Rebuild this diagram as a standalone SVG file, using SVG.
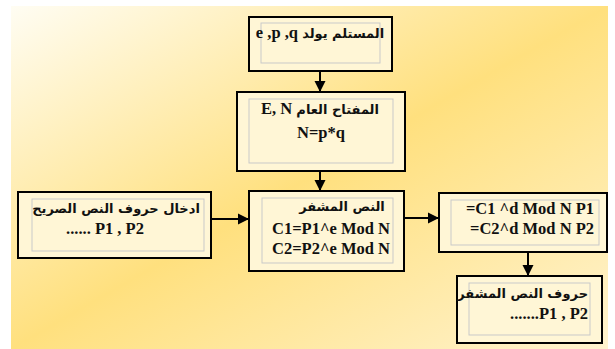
<svg xmlns="http://www.w3.org/2000/svg" width="615" height="349" viewBox="0 0 615 349">
<defs>
<linearGradient id="bg" x1="0" y1="0" x2="1" y2="1">
<stop offset="0" stop-color="#FFFDF3"/>
<stop offset="0.5" stop-color="#FFE07E"/>
<stop offset="1" stop-color="#FFF3CF"/>
</linearGradient>
<marker id="ah" viewBox="0 0 10 10" refX="10" refY="5" markerWidth="11" markerHeight="12" markerUnits="userSpaceOnUse" orient="auto">
<path d="M0,0 L10,5 L0,10 Z" fill="#000"/>
</marker>
<style>
.box{fill:#FFF6D6;stroke:#000;stroke-width:2}
.inner{fill:none;stroke:#C9C9C9;stroke-width:1}
.t{font-family:"Liberation Serif","DejaVu Sans",serif;font-weight:bold;font-size:16.5px;fill:#111}
.ar{font-family:"DejaVu Sans","Liberation Serif",sans-serif;font-weight:bold;font-size:13px;fill:#111}
.c{text-anchor:middle}
.conn{stroke:#000;stroke-width:2;fill:none;marker-end:url(#ah)}
</style>
</defs>
<rect x="11" y="6" width="597" height="343" fill="url(#bg)"/>
<g id="connectors">
<line class="conn" x1="320" y1="71" x2="320" y2="92"/>
<line class="conn" x1="320" y1="171" x2="320" y2="191"/>
<line class="conn" x1="211" y1="219" x2="249" y2="219"/>
<line class="conn" x1="404" y1="218" x2="439" y2="218"/>
<line class="conn" x1="528" y1="252" x2="528" y2="276"/>
</g>
<g id="receiver">
<rect class="box" x="249" y="17" width="143" height="54"/>
<rect class="inner" x="261" y="23" width="119" height="40"/>
<text class="t c" x="320" y="38">e ,p ,q <tspan class="ar" font-size="12">المستلم يولد</tspan></text>
</g>
<g id="publickey">
<rect class="box" x="237" y="92" width="168" height="79"/>
<rect class="inner" x="249" y="99" width="144" height="64"/>
<text class="t c" x="320" y="114">E, N <tspan class="ar">المفتاح العام</tspan></text>
<text class="t c" x="321" y="138">N=p*q</text>
</g>
<g id="plaintext">
<rect class="box" x="18" y="192" width="193" height="66"/>
<rect class="inner" x="32" y="199" width="172" height="52"/>
<text class="ar c" x="116" y="213">ادخال حروف النص الصريح</text>
<text class="t c" x="105" y="234">...... P1 , P2</text>
</g>
<g id="encrypt">
<rect class="box" x="249" y="191" width="155" height="80"/>
<rect class="inner" x="262" y="198" width="131" height="65"/>
<text class="ar c" x="342" y="211">النص المشفر</text>
<text class="t" x="272" y="234">C1=P1^e Mod N</text>
<text class="t" x="272" y="254">C2=P2^e Mod N</text>
</g>
<g id="decrypt">
<rect class="box" x="439" y="193" width="168" height="59"/>
<rect class="inner" x="451" y="200" width="148" height="45"/>
<text class="t" x="594" y="214" text-anchor="end">=C1 ^d Mod N P1</text>
<text class="t" x="594" y="234" text-anchor="end">=C2^d Mod N  P2</text>
</g>
<g id="ciphertext">
<rect class="box" x="457" y="276" width="145" height="67"/>
<rect class="inner" x="469" y="283" width="121" height="52"/>
<text class="ar" x="588" y="298" text-anchor="end">حروف النص المشفر</text>
<text class="t" x="588" y="319" text-anchor="end">.......P1 , P2</text>
</g>
</svg>
